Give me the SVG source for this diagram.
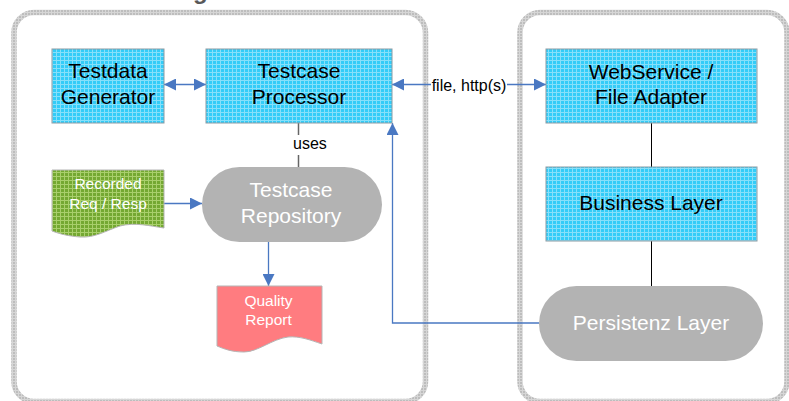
<svg xmlns="http://www.w3.org/2000/svg" width="789" height="401" viewBox="0 0 789 401">
<defs>
<pattern id="cyanGrid" width="4" height="4" patternUnits="userSpaceOnUse">
<rect width="4" height="4" fill="#33ccf8"/>
<path d="M0 0.5H4M0.5 0V4" stroke="#86e0fa" stroke-width="1"/>
</pattern>
<pattern id="greenGrid" width="4" height="4" patternUnits="userSpaceOnUse">
<rect width="4" height="4" fill="#74a832"/>
<path d="M0 0.5H4M0.5 0V4" stroke="#a9cf6c" stroke-width="1"/>
</pattern>
<pattern id="grayGrid" width="3" height="3" patternUnits="userSpaceOnUse">
<rect width="3" height="3" fill="#bdbdbd"/>
<path d="M0 0.5H3M0.5 0V3" stroke="#d6d6d6" stroke-width="1"/>
</pattern>
<marker id="arr" viewBox="0 0 12 12" refX="12" refY="6" markerWidth="12" markerHeight="12" markerUnits="userSpaceOnUse" orient="auto-start-reverse">
<path d="M0 0L12 6L0 12Z" fill="#4a78c2"/>
</marker>
<style>
.container{fill:#fff;stroke:url(#grayGrid);stroke-width:5.5}
.box{fill:url(#cyanGrid);stroke:#8c9ca4;stroke-width:1}
.pill{fill:#b3b3b3}
.dark{font-family:"Liberation Sans",Arial,sans-serif;font-size:21px;fill:#000;text-anchor:middle}
.light{font-family:"Liberation Sans",Arial,sans-serif;font-size:21px;fill:#fff;text-anchor:middle}
.small{font-family:"Liberation Sans",Arial,sans-serif;font-size:15.5px;fill:#fff;text-anchor:middle}
.lbl{font-family:"Liberation Sans",Arial,sans-serif;font-size:16px;fill:#000}
.conn{fill:none;stroke:#4a78c2;stroke-width:1.3}
.plain{fill:none;stroke:#000;stroke-width:1}
</style>
</defs>
<rect width="789" height="401" fill="#fff"/>
<text x="193" y="-1" font-family="'Liberation Sans',Arial,sans-serif" font-size="24" font-weight="bold" fill="#595959">g</text>
<g id="left-container"><rect class="container" x="14" y="12.5" width="411.5" height="389" rx="20"/></g>
<g id="right-container"><rect class="container" x="520" y="12.5" width="267" height="389" rx="20"/></g>
<g id="connectors">
<line class="conn" x1="164" y1="84.5" x2="206" y2="84.5" marker-start="url(#arr)" marker-end="url(#arr)"/>
<line class="conn" x1="392" y1="84.5" x2="546" y2="84.5" marker-start="url(#arr)" marker-end="url(#arr)"/>
<rect x="431" y="74" width="76" height="20" fill="#fff"/>
<text class="lbl" x="469" y="91" text-anchor="middle">file, http(s)</text>
<line class="conn" x1="164" y1="203.5" x2="202" y2="203.5" marker-end="url(#arr)"/>
<line class="conn" x1="268.5" y1="242" x2="268.5" y2="286" marker-end="url(#arr)"/>
<polyline class="conn" points="539,323 392.5,323 392.5,123" marker-end="url(#arr)"/>
<line x1="298.5" y1="123" x2="298.5" y2="135" stroke="#666" stroke-width="1.5"/>
<line x1="298.5" y1="155" x2="298.5" y2="167" stroke="#666" stroke-width="1.5"/>
<text class="lbl" x="293" y="149">uses</text>
<line class="plain" x1="651.5" y1="123" x2="651.5" y2="167"/>
<line class="plain" x1="651.5" y1="241" x2="651.5" y2="286"/>
</g>
<g id="testdata-generator">
<rect class="box" x="52" y="49" width="112" height="74"/>
<text class="dark" x="108" y="78">Testdata</text>
<text class="dark" x="108" y="104">Generator</text>
</g>
<g id="testcase-processor">
<rect class="box" x="206" y="49" width="186" height="74"/>
<text class="dark" x="299" y="78">Testcase</text>
<text class="dark" x="299" y="104">Processor</text>
</g>
<g id="webservice-adapter">
<rect class="box" x="546" y="49" width="211" height="74"/>
<text class="dark" x="651" y="79">WebService /</text>
<text class="dark" x="651" y="104">File Adapter</text>
</g>
<g id="business-layer">
<rect class="box" x="546" y="167" width="211" height="74"/>
<text class="dark" x="651" y="210">Business Layer</text>
</g>
<g id="persistenz-layer">
<rect class="pill" x="539" y="286" width="224" height="75" rx="37.5"/>
<text class="light" x="651" y="330">Persistenz Layer</text>
</g>
<g id="testcase-repository">
<rect class="pill" x="202" y="167" width="180" height="75" rx="37.5"/>
<text class="light" x="291" y="197">Testcase</text>
<text class="light" x="291" y="223">Repository</text>
</g>
<g id="recorded-req-resp">
<path d="M52 170H164V228C150 226 135 222 120 226C105 231 95 238 80 237C68 236 60 234 52 231Z" fill="url(#greenGrid)" stroke="#b5b5b5" stroke-width="1"/>
<text class="small" x="108" y="189">Recorded</text>
<text class="small" x="108" y="208.5">Req / Resp</text>
</g>
<g id="quality-report">
<path d="M217 286H322V344C310 340 300 336 288 337C272 339 258 352 244 352C232 352 224 349 217 346Z" fill="#ff7c80" stroke="#b5b5b5" stroke-width="1"/>
<text class="small" x="268.5" y="306">Quality</text>
<text class="small" x="268.5" y="325">Report</text>
</g>
</svg>
